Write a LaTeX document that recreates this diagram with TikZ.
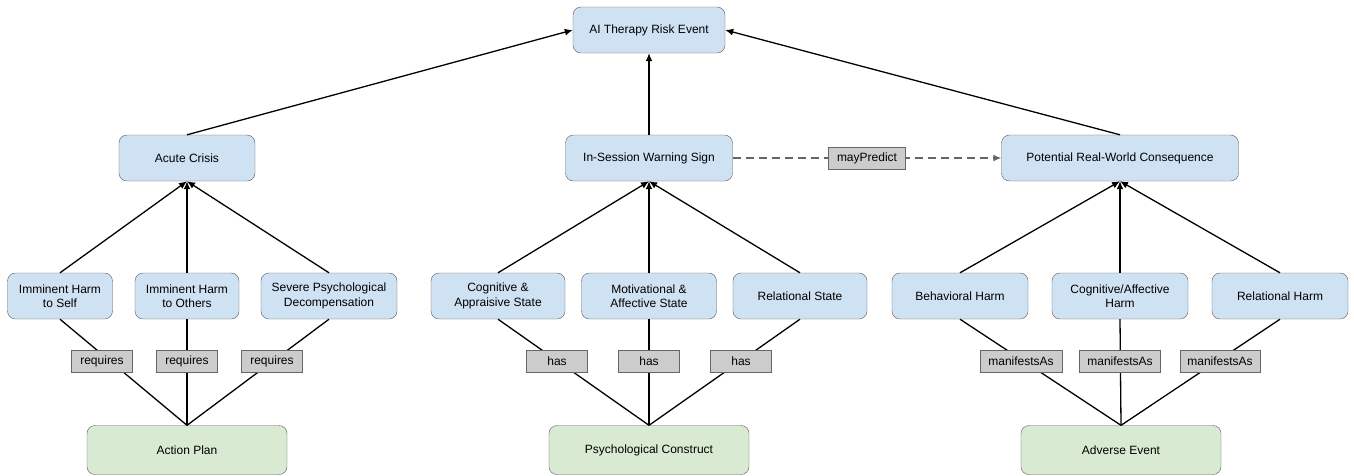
\documentclass[tikz,border=0pt]{standalone}
\usepackage{fontspec}
\setmainfont{Liberation Sans}
\usetikzlibrary{arrows.meta}

\definecolor{boxblue}{HTML}{CFE2F3}
\definecolor{boxgreen}{HTML}{D9EAD3}
\definecolor{relgray}{HTML}{CCCCCC}
\definecolor{boxline}{HTML}{595959}

\begin{document}
\begin{tikzpicture}[x=1pt, y=-1pt]
		\tikzset{
			every node/.style={
				draw=boxline,
				align=center,
				font=\fontsize{12}{14.5}\selectfont,
				inner sep=0pt
			},
			concept/.style={
				rectangle,
				rounded corners=8pt,
				fill=boxblue,
				minimum height=46pt
			},
			root/.style={
				rectangle,
				rounded corners=8pt,
				fill=boxgreen,
				minimum width=200pt,
				minimum height=49pt
			},
			rel/.style={
				rectangle,
				fill=relgray,
				draw=black!60,
				minimum height=22pt
			},
			line/.style={
				-{Latex[length=8pt,width=7pt]},
				line width=1.3pt
			},
			plain/.style={
				line width=1.3pt
			}
		}

		\useasboundingbox (0,0) rectangle (1354,475);

		% top
		\node[concept, minimum width=152pt] (risk) at (649, 30)
			{AI Therapy Risk Event};

		% middle row
		\node[concept, minimum width=136pt] (crisis) at (187, 158)
			{Acute Crisis};
		\node[concept, minimum width=167pt] (warn) at (649, 158)
			{In-Session Warning Sign};
		\node[concept, minimum width=237pt] (conseq) at (1120, 158)
			{Potential Real-World Consequence};

		% lower row
		\node[concept, minimum width=105pt] (self) at (60, 296)
			{Imminent Harm\\to Self};
		\node[concept, minimum width=104pt] (others) at (187, 296)
			{Imminent Harm\\to Others};
		\node[concept, minimum width=136pt] (decomp) at (329, 296)
			{Severe Psychological\\Decompensation};

		\node[concept, minimum width=134pt] (cogstate) at (498, 296)
			{Cognitive \&\\Appraisive State};
		\node[concept, minimum width=135pt] (motstate) at (649, 296)
			{Motivational \&\\Affective State};
		\node[concept, minimum width=134pt] (relstate) at (800, 296)
			{Relational State};

		\node[concept, minimum width=136pt] (behharm) at (960, 296)
			{Behavioral Harm};
		\node[concept, minimum width=136pt] (cogharm) at (1120, 296)
			{Cognitive/Affective\\Harm};
		\node[concept, minimum width=136pt] (relharm) at (1280, 296)
			{Relational Harm};

		% bottom
		\node[root] (plan) at (187, 450)
			{Action Plan};
		\node[root] (construct) at (649, 450)
			{Psychological Construct};
		\node[root] (adverse) at (1121, 450)
			{Adverse Event};

		\draw[line] (crisis.north) -- (risk.west);
		\draw[line] (warn.north) -- (risk.south);
		\draw[line] (conseq.north) -- (risk.east);

		\draw[line] (self.north) -- (crisis.south);
		\draw[line] (others.north) -- (crisis.south);
		\draw[line] (decomp.north) -- (crisis.south);

		\draw[line] (cogstate.north) -- (warn.south);
		\draw[line] (motstate.north) -- (warn.south);
		\draw[line] (relstate.north) -- (warn.south);

		\draw[line] (behharm.north) -- (conseq.south);
		\draw[line] (cogharm.north) -- (conseq.south);
		\draw[line] (relharm.north) -- (conseq.south);

		\draw[plain] (plan.north) -- (self.south);
		\draw[plain] (plan.north) -- (others.south);
		\draw[plain] (plan.north) -- (decomp.south);

		\draw[plain] (construct.north) -- (cogstate.south);
		\draw[plain] (construct.north) -- (motstate.south);
		\draw[plain] (construct.north) -- (relstate.south);

		\draw[plain] (adverse.north) -- (behharm.south);
		\draw[plain] (adverse.north) -- (cogharm.south);
		\draw[plain] (adverse.north) -- (relharm.south);

		\draw[line, black!60, dash pattern=on 8pt off 5pt] (warn.east) -- (conseq.west);

		% relation labels
		\node[rel, minimum width=77pt] (predict) at (867, 158) {mayPredict};

		\node[rel, minimum width=61pt] (req1) at (102, 361) {requires};
		\node[rel, minimum width=61pt] (req2) at (187, 361) {requires};
		\node[rel, minimum width=61pt] (req3) at (272, 361) {requires};

		\node[rel, minimum width=61pt] (has1) at (557, 361) {has};
		\node[rel, minimum width=61pt] (has2) at (649, 361) {has};
		\node[rel, minimum width=61pt] (has3) at (741, 361) {has};

		\node[rel, minimum width=82pt] (man1) at (1021, 361) {manifestsAs};
		\node[rel, minimum width=81pt] (man2) at (1120, 361) {manifestsAs};
		\node[rel, minimum width=80pt] (man3) at (1220, 361) {manifestsAs};

	\end{tikzpicture}
\end{document}
